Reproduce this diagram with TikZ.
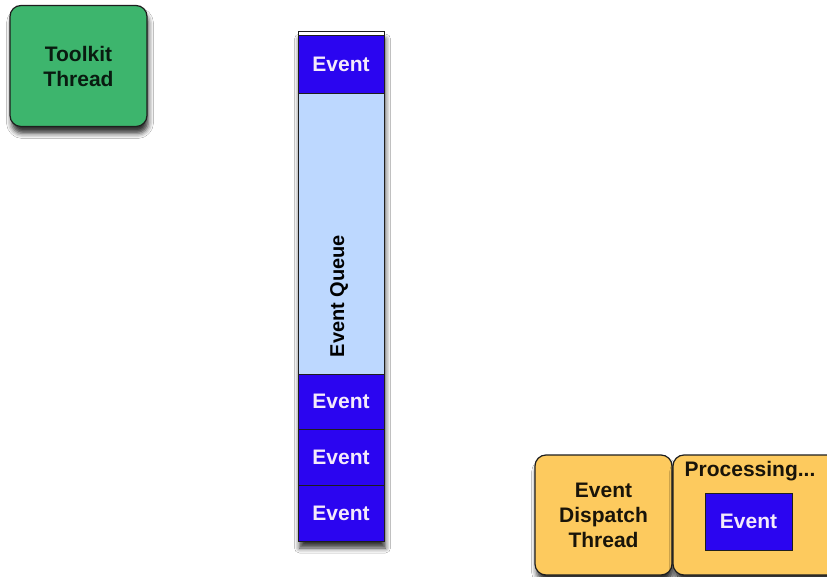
\documentclass[tikz,border=0pt]{standalone}
\usepackage{fontspec}
\setmainfont{Liberation Sans}
\usetikzlibrary{shadows.blur}
\definecolor{tkgreen}{HTML}{3DB56D}
\definecolor{evblue}{HTML}{2B05F0}
\definecolor{qblue}{HTML}{BDD8FF}
\definecolor{edtyellow}{HTML}{FDCA5E}
\definecolor{edge}{HTML}{1E1E1E}
\definecolor{evtext}{HTML}{F4EAFB}
\tikzset{
  shad/.style={blur shadow={shadow xshift=1.5pt, shadow yshift=-7pt, shadow blur radius=5pt, shadow opacity=80}},
  thread/.style={draw=edge, line width=1.2pt, rounded corners=11pt, inner sep=0pt, align=center, font=\bfseries\fontsize{21}{25}\selectfont},
  evbox/.style={draw=edge, line width=0.8pt, fill=evblue, text=evtext, inner sep=0pt, minimum width=86pt, font=\bfseries\fontsize{21}{25}\selectfont},
  lbl/.style={inner sep=0pt, font=\bfseries\fontsize{21}{25}\selectfont, text=black},
}
\begin{document}
\begin{tikzpicture}[x=1pt,y=-1pt]
\useasboundingbox (0,0) rectangle (827,577);
\clip (0,0) rectangle (827,577);
\fill[white] (0,0) rectangle (827,577);
% Toolkit thread
\node[thread, shad, fill=tkgreen, text=black!85!tkgreen, minimum width=137pt, minimum height=121pt] (tk) at (78.5,66) {Toolkit\\Thread};
% Queue frame
\node[draw=edge, line width=1pt, fill=white, shad, inner sep=0pt, minimum width=86pt, minimum height=509pt] (queue) at (341,286.5) {};
\node[fill=qblue, draw=edge, line width=0.8pt, inner sep=0pt, minimum width=86pt, minimum height=281pt] (qbody) at (341,233.5) {};
\node[lbl, rotate=90, font=\bfseries\fontsize{20}{24}\selectfont] (qlabel) at (339,296) {Event Queue};
\node[evbox, minimum height=58pt] (e0) at (341,64) {Event};
\node[evbox, minimum height=55.67pt] (e1) at (341,401.8) {Event};
\node[evbox, minimum height=55.67pt] (e2) at (341,457.5) {Event};
\node[evbox, minimum height=55.67pt] (e3) at (341,513.2) {Event};
% Event dispatch thread
\node[thread, shad, fill=edtyellow, text=black!90!edtyellow, minimum width=137pt, minimum height=120pt] (edt) at (603.5,515) {Event\\Dispatch\\Thread};
\node[thread, shad, fill=edtyellow, minimum width=167pt, minimum height=120pt] (proc) at (756.5,515) {};
\node[lbl, text=black!90!edtyellow] (ptext) at (750,471) {Processing...};
\node[evbox, minimum width=87pt, minimum height=57pt] (pev) at (748.5,521.5) {Event};
\end{tikzpicture}
\end{document}
